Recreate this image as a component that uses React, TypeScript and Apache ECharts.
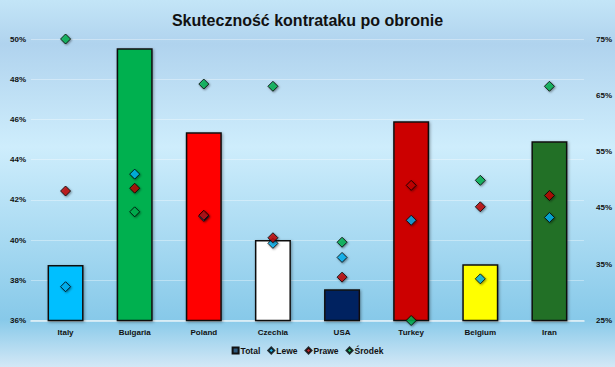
import React, { useEffect, useRef } from "react";
import * as echarts from "echarts";

const categories = ["Italy", "Bulgaria", "Poland", "Czechia", "USA", "Turkey", "Belgium", "Iran"];
const totalValues = [38.76, 49.54, 45.36, 40.0, 37.55, 45.91, 38.8, 44.92];
const barColors = ["#00BFFF", "#00B050", "#FF0000", "#FFFFFF", "#002060", "#CC0000", "#FFFF00", "#217028"];
const leweValues = [31.0, 51.0, 43.5, 38.7, 36.2, 42.8, 32.4, 43.3];
const praweValues = [48.0, 48.5, 43.7, 39.7, 32.7, 49.0, 45.2, 47.2];
const srodekValues = [75.0, 44.3, 67.0, 66.6, 38.9, 25.0, 49.9, 66.6];
const leftTicks = { min: 36, max: 50, interval: 2 };
const rightTicks = { min: 25, max: 75, interval: 10 };

const FONT = "Liberation Sans";

export default function App() {
  const ref = useRef<HTMLDivElement>(null);
  useEffect(() => {
    if (!ref.current) return;
    const chart = echarts.init(ref.current, undefined, { renderer: "svg" });
    const markerStyle = (color: string) => ({
      color,
      borderColor: "#000",
      borderWidth: 1,
      shadowBlur: 2,
      shadowColor: "rgba(0,0,0,0.5)",
      shadowOffsetX: 1,
      shadowOffsetY: 1,
    });
    chart.setOption({
      animation: false,
      backgroundColor: {
        type: "linear",
        x: 0, y: 0, x2: 0, y2: 1,
        colorStops: [
          { offset: 0, color: "#C3E5F7" },
          { offset: 0.12, color: "#B0D3EE" },
          { offset: 0.4, color: "#CEEDFC" },
          { offset: 0.87, color: "#87C9E9" },
          { offset: 1, color: "#D3E8F6" },
        ],
      },
      title: {
        text: "Skuteczność kontrataku po obronie",
        left: "center",
        top: 7,
        textStyle: { fontFamily: FONT, fontWeight: "bold", fontSize: 16, color: "#111" },
      },
      legend: {
        bottom: 7,
        left: "center",
        itemWidth: 6,
        itemHeight: 6,
        itemGap: 7,
        textStyle: { fontFamily: FONT, fontWeight: "bold", fontSize: 8.5, color: "#111", padding: [0, 0, 0, -3] },
        data: [
          { name: "Total", icon: "rect" },
          { name: "Lewe", icon: "diamond" },
          { name: "Prawe", icon: "diamond" },
          { name: "Środek", icon: "diamond" },
        ],
      },
      grid: { left: 31, right: 31, top: 39, bottom: 46.5 },
      xAxis: {
        type: "category",
        data: categories,
        axisLine: { lineStyle: { color: "#E6F2F8", width: 1.5 } },
        axisTick: { show: false },
        axisLabel: { fontFamily: FONT, fontWeight: "bold", fontSize: 8, color: "#111", margin: 8 },
      },
      yAxis: [
        {
          type: "value",
          min: leftTicks.min,
          max: leftTicks.max,
          interval: leftTicks.interval,
          axisLine: { show: false },
          axisTick: { show: false },
          splitLine: { lineStyle: { color: "rgba(255,255,255,0.35)", width: 1 } },
          axisLabel: { formatter: "{value}%", fontFamily: FONT, fontWeight: "bold", fontSize: 8, color: "#111", margin: 5 },
        },
        {
          type: "value",
          min: rightTicks.min,
          max: rightTicks.max,
          interval: rightTicks.interval,
          axisLine: { show: false },
          axisTick: { show: false },
          splitLine: { show: false },
          axisLabel: { formatter: "{value}%", fontFamily: FONT, fontWeight: "bold", fontSize: 8, color: "#111", margin: 12 },
        },
      ],
      series: [
        {
          name: "Total",
          type: "bar",
          yAxisIndex: 0,
          barWidth: 36,
          itemStyle: { color: "#2F5A7E", borderColor: "#111", borderWidth: 1 },
          data: totalValues.map((v, i) => ({
            value: v,
            itemStyle: {
              color: barColors[i],
              borderColor: "#111",
              borderWidth: 1.5,
              shadowBlur: 3,
              shadowColor: "rgba(0,0,0,0.35)",
              shadowOffsetX: 1,
              shadowOffsetY: 1,
            },
          })),
        },
        {
          name: "Lewe",
          type: "scatter",
          yAxisIndex: 1,
          symbol: "diamond",
          symbolSize: 10,
          itemStyle: markerStyle("#00B0F0"),
          data: leweValues,
        },
        {
          name: "Prawe",
          type: "scatter",
          yAxisIndex: 1,
          symbol: "diamond",
          symbolSize: 10,
          itemStyle: markerStyle("#C00000"),
          data: praweValues,
        },
        {
          name: "Środek",
          type: "scatter",
          yAxisIndex: 1,
          symbol: "diamond",
          symbolSize: 10,
          itemStyle: markerStyle("#00B050"),
          data: srodekValues,
        },
      ],
    });
    return () => chart.dispose();
  }, []);
  return <div ref={ref} style={{ position: "fixed", left: 0, top: 0, width: 615, height: 367 }} />;
}
